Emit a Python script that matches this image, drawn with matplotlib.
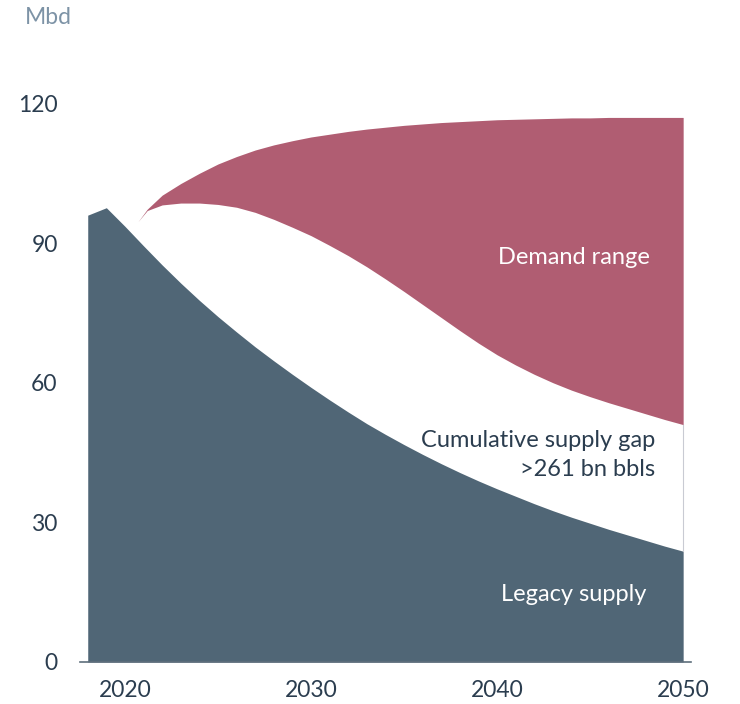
import matplotlib
matplotlib.use("Agg")
import matplotlib.pyplot as plt

# Legacy supply (Mbd)
legacy_years = [2018, 2019, 2020, 2021, 2022, 2023, 2024, 2025, 2026, 2027,
                2028, 2029, 2030, 2031, 2032, 2033, 2034, 2035, 2036, 2037,
                2038, 2039, 2040, 2041, 2042, 2043, 2044, 2045, 2046, 2047,
                2048, 2049, 2050]
legacy_supply = [96.0, 97.6, 93.6, 89.4, 85.3, 81.4, 77.7, 74.2, 70.9, 67.7,
                 64.7, 61.8, 59.0, 56.3, 53.7, 51.2, 48.9, 46.7, 44.6, 42.6,
                 40.7, 38.9, 37.2, 35.6, 34.0, 32.5, 31.1, 29.8, 28.5, 27.3,
                 26.1, 24.9, 23.8]

# Demand range (Mbd): low and high scenarios
demand_years = [2020.7, 2021.2, 2022, 2023, 2024, 2025, 2026, 2027, 2028, 2029,
                2030, 2031, 2032, 2033, 2034, 2035, 2036, 2037, 2038, 2039,
                2040, 2041, 2042, 2043, 2044, 2045, 2046, 2047, 2048, 2049,
                2050]
demand_low = [94.6, 97.0, 98.2, 98.6, 98.6, 98.3, 97.7, 96.6, 95.1, 93.4,
              91.6, 89.5, 87.3, 84.9, 82.3, 79.6, 76.8, 74.0, 71.2, 68.5,
              66.0, 63.8, 61.8, 60.0, 58.4, 57.0, 55.7, 54.5, 53.3, 52.1,
              51.0]
demand_high = [94.6, 97.3, 100.3, 102.8, 105.0, 107.0, 108.6, 110.0, 111.1, 112.0,
               112.8, 113.4, 114.0, 114.5, 114.9, 115.3, 115.6, 115.9, 116.1, 116.3,
               116.5, 116.6, 116.7, 116.8, 116.9, 116.9, 117.0, 117.0, 117.0, 117.0,
               117.0]

x_ticks = [2020, 2030, 2040, 2050]
y_ticks = [0, 30, 60, 90, 120]

legacy_color = "#506676"
demand_color = "#B05D72"
text_dark = "#2B3D4F"
unit_color = "#7D93A6"

plt.rcParams["font.family"] = ["Lato", "DejaVu Sans"]

fig = plt.figure(figsize=(7.40, 7.04), dpi=100)
ax = fig.add_axes([0.108, 0.0597, 0.826, 0.833])

ax.fill_between(legacy_years, 0, legacy_supply, color=legacy_color, lw=0)
ax.fill_between(demand_years, demand_low, demand_high, color=demand_color, lw=0)
# thin closing edge of the supply gap at the horizon year
ax.plot([legacy_years[-1], legacy_years[-1]], [legacy_supply[-1], demand_low[-1]],
        color="#C9CBD3", lw=0.8)

ax.set_xlim(2017.58, 2050.43)
ax.set_ylim(0, 126)
ax.set_xticks(x_ticks)
ax.set_yticks(y_ticks)
ax.set_xticklabels([str(t) for t in x_ticks])
ax.set_yticklabels([str(t) for t in y_ticks])
ax.tick_params(axis="both", length=0, labelsize=16.5, colors=text_dark)
ax.tick_params(axis="y", pad=16)
ax.tick_params(axis="x", pad=13)
for s in ["top", "right", "left"]:
    ax.spines[s].set_visible(False)
ax.spines["bottom"].set_color("#5E6E7C")
ax.spines["bottom"].set_linewidth(1.2)

ax.text(2048.2, 86.9, "Demand range", color="white", fontsize=17,
        ha="right", va="center")
ax.text(2048.5, 47.5, "Cumulative supply gap", color=text_dark, fontsize=17,
        ha="right", va="center")
ax.text(2048.5, 41.3, ">261 bn bbls", color=text_dark, fontsize=17,
        ha="right", va="center")
ax.text(2048.0, 14.4, "Legacy supply", color="white", fontsize=17,
        ha="right", va="center")

fig.text(25 / 740, 1 - 18 / 704, "Mbd", color=unit_color, fontsize=16.5,
         ha="left", va="center")

fig.savefig("out.png", dpi=100)
